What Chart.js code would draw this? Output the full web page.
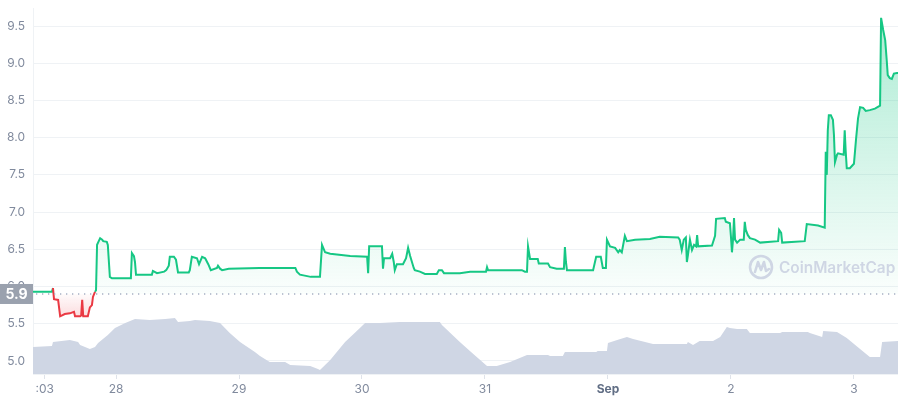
<!DOCTYPE html>
<html>
<head>
<meta charset="utf-8">
<script src="https://cdn.jsdelivr.net/npm/chart.js@4.4.0/dist/chart.umd.min.js"></script>
<style>
html, body { margin: 0; padding: 0; background: #fff; }
#wrap { width: 898px; height: 400px; position: relative; }
</style>
</head>
<body>
<div id="wrap"><canvas id="chart"></canvas></div>
<script>
// hours counted from Aug 28 00:00
const BASE_PRICE = 5.9;

const priceHours = [
	-16.2, -12.5, -12.3, -12.1, -11.3, -10.9, -10.0, -9.0, -8.2, -8.0, -7.0, -6.8, -6.6, -6.4, -5.5, -5.1, -4.7, -4.5, -4.1, -3.9,
	-3.7, -3.1, -2.7, -2.5, -1.8, -1.6, -1.2, -0.8, 2.9, 3.1, 3.5, 3.7, 3.9, 7.0, 7.2, 8.0, 9.4, 9.8, 10.3, 10.5,
	11.3, 11.7, 12.1, 14.2, 14.4, 14.8, 15.8, 16.2, 16.8, 17.4, 18.0, 18.5, 19.7, 19.9, 20.3, 20.7, 22.0, 28.0, 35.0, 35.3,
	35.9, 38.0, 39.8, 40.2, 40.8, 41.8, 45.7, 49.0, 49.2, 49.4, 51.9, 52.1, 52.3, 53.5, 53.9, 54.2, 54.4, 54.8, 56.0, 56.6,
	57.0, 57.4, 58.1, 58.3, 59.3, 60.3, 62.6, 63.0, 63.6, 64.0, 67.1, 69.1, 72.2, 72.4, 72.6, 79.2, 79.8, 80.2, 80.4, 80.8,
	82.3, 82.5, 84.3, 84.7, 86.0, 87.4, 87.6, 87.8, 88.0, 93.1, 93.7, 94.6, 95.0, 95.6, 95.8, 96.4, 97.4, 98.0, 98.3, 98.7,
	99.3, 99.7, 101.3, 104.2, 106.1, 109.7, 110.0, 110.4, 110.8, 111.2, 111.4, 111.6, 112.0, 112.4, 112.8, 113.2, 113.4, 113.6, 116.3, 116.9,
	117.1, 118.8, 119.0, 119.8, 120.0, 120.2, 120.4, 120.6, 120.8, 121.2, 121.8, 122.5, 122.7, 122.9, 123.3, 123.7, 124.7, 125.7, 129.2, 129.4,
	129.8, 130.0, 134.4, 134.8, 137.0, 138.3, 138.5, 138.7, 138.9, 139.1, 139.5, 139.9, 140.1, 140.3, 140.7, 140.9, 142.0, 142.2, 142.4, 142.6,
	143.2, 143.6, 144.0, 144.4, 144.8, 145.2, 145.8, 146.3, 147.1, 148.1, 149.1, 149.3, 149.7, 150.1, 150.4, 150.6, 151.0, 151.4, 151.8, 152.4,
	152.6
];
const priceValues = [
	5.93, 5.93, 5.98, 5.83, 5.82, 5.60, 5.63, 5.64, 5.66, 5.60, 5.60, 5.61, 5.82, 5.60, 5.60, 5.72, 5.75, 5.86, 5.93, 5.95,
	6.56, 6.65, 6.63, 6.61, 6.60, 6.56, 6.13, 6.11, 6.11, 6.45, 6.41, 6.33, 6.16, 6.16, 6.21, 6.18, 6.20, 6.22, 6.28, 6.40,
	6.40, 6.36, 6.19, 6.19, 6.22, 6.40, 6.38, 6.30, 6.40, 6.38, 6.30, 6.22, 6.25, 6.28, 6.24, 6.22, 6.24, 6.25, 6.25, 6.20,
	6.16, 6.13, 6.13, 6.56, 6.46, 6.44, 6.41, 6.40, 6.18, 6.54, 6.54, 6.24, 6.38, 6.38, 6.44, 6.33, 6.22, 6.30, 6.30, 6.38,
	6.52, 6.41, 6.25, 6.22, 6.20, 6.17, 6.17, 6.22, 6.22, 6.18, 6.18, 6.20, 6.20, 6.26, 6.22, 6.22, 6.20, 6.20, 6.54, 6.37,
	6.37, 6.31, 6.31, 6.26, 6.24, 6.24, 6.53, 6.33, 6.22, 6.22, 6.40, 6.40, 6.25, 6.25, 6.63, 6.54, 6.52, 6.46, 6.49, 6.46,
	6.68, 6.61, 6.63, 6.64, 6.67, 6.66, 6.63, 6.49, 6.63, 6.66, 6.33, 6.42, 6.63, 6.49, 6.56, 6.54, 6.69, 6.54, 6.55, 6.68,
	6.91, 6.92, 6.87, 6.85, 6.67, 6.46, 6.63, 6.92, 6.63, 6.59, 6.63, 6.63, 6.87, 6.76, 6.69, 6.65, 6.63, 6.59, 6.61, 6.76,
	6.72, 6.59, 6.61, 6.84, 6.82, 6.79, 7.81, 7.50, 8.10, 8.30, 8.30, 8.24, 8.04, 7.67, 7.77, 7.79, 7.77, 8.10, 7.81, 7.59,
	7.59, 7.62, 7.65, 7.97, 8.26, 8.41, 8.40, 8.36, 8.37, 8.39, 8.43, 9.61, 9.45, 9.31, 9.04, 8.84, 8.80, 8.79, 8.86, 8.87,
	8.87
];

// volume, thousands of USD
const volumeHours = [
	-16.2, -12.5, -12.3, -9.0, -7.4, -7.0, -5.1, -4.1, -3.5, -1.6, -0.2, 1.8, 3.7, 6.6, 9.6, 11.5, 12.1, 14.4, 15.4, 18.3,
	20.3, 22.2, 24.2, 27.1, 28.1, 30.0, 33.0, 34.0, 37.9, 39.4, 39.8, 41.8, 44.7, 47.6, 48.6, 51.5, 55.4, 63.2, 63.6, 67.1,
	69.5, 72.4, 74.3, 76.9, 80.2, 84.3, 84.7, 87.2, 87.6, 93.7, 94.0, 95.8, 96.0, 97.8, 99.7, 100.9, 104.8, 111.4, 111.6, 112.6,
	113.9, 116.5, 117.9, 119.2, 119.8, 121.2, 123.1, 123.7, 129.6, 130.0, 135.0, 135.4, 137.8, 138.0, 140.7, 142.6, 145.2, 147.1, 149.1, 149.5,
	152.6
];
const volumeValues = [
	270, 280, 320, 340, 320, 290, 250, 270, 310, 390, 460, 510, 550, 540, 550, 560, 520, 530, 540, 530,
	510, 410, 320, 220, 180, 120, 120, 90, 80, 50, 40, 140, 320, 460, 510, 510, 520, 520, 490, 320,
	210, 80, 80, 120, 190, 190, 180, 180, 220, 220, 230, 230, 310, 340, 370, 350, 300, 300, 320, 290,
	330, 330, 370, 470, 460, 450, 450, 410, 410, 420, 420, 410, 370, 430, 420, 360, 250, 170, 170, 320,
	330
];

const xTickHours = [-13.9, 0, 24, 48, 72, 96, 120, 144];
const xTickLabels = [':03', '28', '29', '30', '31', 'Sep', '2', '3'];
const yTicks = [5.0, 5.5, 6.0, 6.5, 7.0, 7.5, 8.0, 8.5, 9.0, 9.5];

const GREEN = '#16c784';
const RED = '#ea3943';
const GREY = '#808a9d';

function toPoints(xs, ys) {
	return xs.map((x, i) => ({x: x, y: ys[i]}));
}

function greenFill(context) {
	const chart = context.chart;
	if (!chart.chartArea) return 'transparent';
	const yb = chart.scales.y.getPixelForValue(BASE_PRICE);
	const g = chart.ctx.createLinearGradient(0, chart.chartArea.top, 0, yb);
	g.addColorStop(0, 'rgba(22,199,132,0.36)');
	g.addColorStop(1, 'rgba(22,199,132,0.02)');
	return g;
}

function redFill(context) {
	const chart = context.chart;
	if (!chart.chartArea) return 'transparent';
	const yb = chart.scales.y.getPixelForValue(BASE_PRICE);
	const yl = chart.scales.y.getPixelForValue(5.55);
	const g = chart.ctx.createLinearGradient(0, yb, 0, yl);
	g.addColorStop(0, 'rgba(234,57,67,0.02)');
	g.addColorStop(1, 'rgba(234,57,67,0.2)');
	return g;
}

const extras = {
	id: 'extras',
	afterDatasetsDraw(chart) {
		const {ctx, chartArea, scales} = chart;
		// watermark
		const cx = chartArea.right - 137, cy = chartArea.top + 259;
		ctx.save();
		ctx.strokeStyle = '#cfd6e4';
		ctx.lineWidth = 2.6;
		ctx.lineCap = 'round';
		ctx.lineJoin = 'round';
		ctx.beginPath();
		ctx.arc(cx, cy, 11, 0, Math.PI * 2);
		ctx.stroke();
		ctx.beginPath();
		ctx.moveTo(cx - 6, cy + 5);
		ctx.lineTo(cx - 3, cy - 5);
		ctx.lineTo(cx, cy + 3);
		ctx.lineTo(cx + 3, cy - 5);
		ctx.lineTo(cx + 5, cy + 4);
		ctx.lineTo(cx + 8, cy + 2);
		ctx.stroke();
		ctx.fillStyle = '#cfd6e4';
		ctx.font = '600 17px Inter, "Noto Sans", sans-serif';
		const w = ctx.measureText('CoinMarketCap').width;
		const size = Math.min(17, 17 * 116 / w);
		ctx.font = '600 ' + size.toFixed(1) + 'px Inter, "Noto Sans", sans-serif';
		ctx.textBaseline = 'middle';
		ctx.fillText('CoinMarketCap', cx + 18, cy + 1);
		ctx.restore();

		// dotted open price line
		const y = scales.y.getPixelForValue(BASE_PRICE);
		ctx.save();
		ctx.strokeStyle = '#a6b0c3';
		ctx.lineWidth = 1.3;
		ctx.setLineDash([1.3, 4.7]);
		ctx.beginPath();
		ctx.moveTo(chartArea.left + 3, y);
		ctx.lineTo(chartArea.right, y);
		ctx.stroke();
		ctx.restore();
	},
	afterDraw(chart) {
		const {ctx, chartArea, scales} = chart;
		const y = scales.y.getPixelForValue(BASE_PRICE);
		ctx.save();
		ctx.fillStyle = '#9aa1ae';
		ctx.fillRect(0, y - 10, chartArea.left, 20);
		ctx.fillStyle = '#ffffff';
		ctx.font = 'bold 14px Inter, "Noto Sans", sans-serif';
		ctx.textAlign = 'center';
		ctx.textBaseline = 'middle';
		ctx.fillText(BASE_PRICE.toFixed(1), chartArea.left / 2, y + 1);
		ctx.restore();
	}
};

const ctx = document.getElementById('chart').getContext('2d');
const chart = new Chart(ctx, {
	type: 'line',
	data: {
		datasets: [
			{
				label: 'Price',
				data: toPoints(priceHours, priceValues),
				yAxisID: 'y',
				borderWidth: 2,
				borderColor: GREEN,
				segment: {
					borderColor: c => (c.p0.parsed.y < BASE_PRICE || c.p1.parsed.y < BASE_PRICE) ? RED : GREEN
				},
				fill: {target: {value: BASE_PRICE}, above: greenFill, below: redFill},
				pointRadius: 0,
				tension: 0,
				order: 0
			},
			{
				label: 'Volume',
				data: toPoints(volumeHours, volumeValues),
				yAxisID: 'yVol',
				borderWidth: 0,
				backgroundColor: '#cfd6e4',
				fill: 'origin',
				pointRadius: 0,
				tension: 0,
				order: 1
			}
		]
	},
	options: {
		responsive: true,
		maintainAspectRatio: false,
		animation: false,
		layout: {padding: {top: 8, right: 0, left: 0, bottom: 0}},
		plugins: {legend: {display: false}, tooltip: {enabled: false}},
		scales: {
			x: {
				type: 'linear',
				min: -16.2,
				max: 152.6,
				afterBuildTicks: s => { s.ticks = xTickHours.map(v => ({value: v})); },
				afterFit: s => { s.height = 26; },
				grid: {drawOnChartArea: false, drawTicks: true, tickLength: 5, tickColor: '#dfe3ea'},
				border: {display: true, color: '#eff2f5'},
				ticks: {
					autoSkip: false,
					maxRotation: 0,
					padding: 3,
					callback: (v, i) => xTickLabels[i],
					color: c => xTickLabels[c.index] === 'Sep' ? '#616e85' : GREY,
					font: c => ({family: 'Inter', size: 12, weight: xTickLabels[c.index] === 'Sep' ? 'bold' : 'normal'})
				}
			},
			y: {
				position: 'left',
				min: 4.825,
				max: 9.742,
				afterBuildTicks: s => { s.ticks = yTicks.map(v => ({value: v})); },
				afterFit: s => { s.width = 33; },
				grid: {color: '#eff2f5', drawTicks: true, tickLength: 8, tickColor: 'transparent'},
				border: {display: true, color: '#eff2f5'},
				ticks: {
					padding: 0,
					color: GREY,
					font: {family: 'Inter', size: 12},
					callback: v => v.toFixed(1)
				}
			},
			yVol: {
				display: false,
				min: 0,
				max: 3660
			}
		}
	},
	plugins: [extras]
});
</script>
</body>
</html>
